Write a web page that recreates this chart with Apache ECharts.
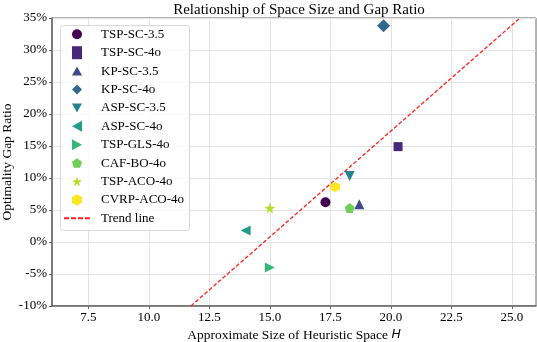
<!DOCTYPE html>
<html><head><meta charset="utf-8">
<script src="https://cdn.jsdelivr.net/npm/echarts@6/dist/echarts.min.js"></script>
<style>html,body{margin:0;padding:0;background:#fff}#c{width:537px;height:342px}</style>
</head><body><div id="c"></div>
<script>
const names = ['TSP-SC-3.5','TSP-SC-4o','KP-SC-3.5','KP-SC-4o','ASP-SC-3.5','ASP-SC-4o','TSP-GLS-4o','CAF-BO-4o','TSP-ACO-4o','CVRP-ACO-4o'];
const xValues = [17.3, 20.3, 18.7, 19.7, 18.3, 14.0, 15.0, 18.3, 15.0, 17.7];
const yValues = [6.2, 14.9, 5.9, 33.8, 10.3, 1.8, -4.0, 5.3, 5.3, 8.6];
const trendX = [11.74, 25.34];
const trendY = [-10, 35];
const xTicks = [7.5, 10.0, 12.5, 15.0, 17.5, 20.0, 22.5, 25.0];

const colors = ['#440154','#482878','#3e4989','#31688e','#26828e','#1f9e89','#35b779','#6ece58','#b5de2b','#fde725'];
const triUp = 'path://M0,-10 L10,8 L-10,8 Z';
const triDown = 'path://M-10,-8 L10,-8 L0,10 Z';
const triLeft = 'path://M-10,0 L8,-10 L8,10 Z';
const triRight = 'path://M10,0 L-8,-10 L-8,10 Z';
const pent = 'path://M0,-10 L9.51,-3.09 L5.88,8.09 L-5.88,8.09 L-9.51,-3.09 Z';
const star = 'path://M0,-10 L2.35,-3.24 L9.51,-3.09 L3.80,1.24 L5.88,8.09 L0,4 L-5.88,8.09 L-3.80,1.24 L-9.51,-3.09 L-2.35,-3.24 Z';
const hex = 'path://M0,-10 L8.66,-5 L8.66,5 L0,10 L-8.66,5 L-8.66,-5 Z';
const diamond = 'path://M0,-10 L10,0 L0,10 L-10,0 Z';
const symbols = ['circle','rect',triUp,diamond,triDown,triLeft,triRight,pent,star,hex];
const sizes = [10,9,10,13,10,10,10,10,11,10];
const dash = 'path://M0,0 H5 V2 H0 Z M7,0 H12 V2 H7 Z M14,0 H19 V2 H14 Z M21,0 H26 V2 H21 Z';
const font = 'Liberation Serif, Times New Roman, serif';

const series = names.map((n,i)=>({
  name:n, type:'scatter', symbol:symbols[i], symbolSize:sizes[i],
  itemStyle:{color:colors[i], opacity:1},
  data:[[xValues[i], yValues[i]]], z:3
}));
series.push({
  name:'Trend line', type:'line', symbol:'none', showSymbol:false,
  lineStyle:{color:'#ff2020', type:[4,2], width:1.3},
  itemStyle:{color:'#ff2020'},
  data: trendX.map((x,i)=>[x, trendY[i]]), z:2
});

const chart = echarts.init(document.getElementById('c'));
chart.setOption({
  animation:false,
  backgroundColor:'#fff',
  title:{text:'Relationship of Space Size and Gap Ratio', left:294, textAlign:'center', top:-2,
    textStyle:{fontFamily:font, fontSize:15, fontWeight:'normal', color:'#000'}},
  grid:{left:52, right:1, top:18, bottom:36, show:true, borderColor:'#666', borderWidth:1,
    containLabel:false, outerBoundsMode:'none'},
  graphic:[{type:'rect', left:60, top:25, shape:{width:129, height:205, r:3}, z:3,
    style:{fill:'rgba(255,255,255,0.85)', stroke:'#d8d8d8', lineWidth:1}}],
  legend:[
    {orient:'vertical', left:60, top:27.8, itemGap:5.4, itemWidth:10, itemHeight:13,
      padding:[0,0,0,12], z:5,
      textStyle:{fontFamily:font, fontSize:13, color:'#000', padding:[0,0,0,14]},
      data:names.map((n,i)=>({name:n, icon:symbols[i]}))},
    {orient:'vertical', left:64, top:211.8, itemWidth:26, itemHeight:2, padding:0, z:5,
      textStyle:{fontFamily:font, fontSize:13, color:'#000', padding:[0,0,0,6]},
      data:[{name:'Trend line', icon:dash, itemStyle:{color:'#ff2020'}}]}
  ],
  xAxis:{type:'value', min:6, max:26,
    name:'Approximate Size of Heuristic Space {i|H}', nameLocation:'middle', nameGap:22, nameMoveOverlap:false,
    nameTextStyle:{fontFamily:font, fontSize:13.5, color:'#000', rich:{i:{fontStyle:'italic', fontFamily:'DejaVu Sans', fontSize:12.5}}},
    axisLine:{show:true, onZero:false, lineStyle:{color:'#666', width:1.5}},
    axisTick:{show:true, length:3, customValues:xTicks, lineStyle:{color:'#666'}},
    axisLabel:{customValues:xTicks, fontFamily:font, fontSize:13, color:'#000', margin:5, formatter:v=>v.toFixed(1)},
    splitLine:{show:true, lineStyle:{color:'#e3e3e3', width:1}}},
  yAxis:{type:'value', min:-10, max:35, interval:5,
    name:'Optimality Gap Ratio', nameLocation:'middle', nameGap:38, nameMoveOverlap:false,
    nameTextStyle:{fontFamily:font, fontSize:13.5, color:'#000'},
    axisLine:{show:true, onZero:false, lineStyle:{color:'#666', width:1.5}},
    axisTick:{show:true, length:3, lineStyle:{color:'#666'}},
    axisLabel:{fontFamily:font, fontSize:13, color:'#000', margin:5, formatter:v=>v+'%'},
    splitLine:{show:true, lineStyle:{color:'#e3e3e3', width:1}}},
  series:series
});
</script></body></html>
